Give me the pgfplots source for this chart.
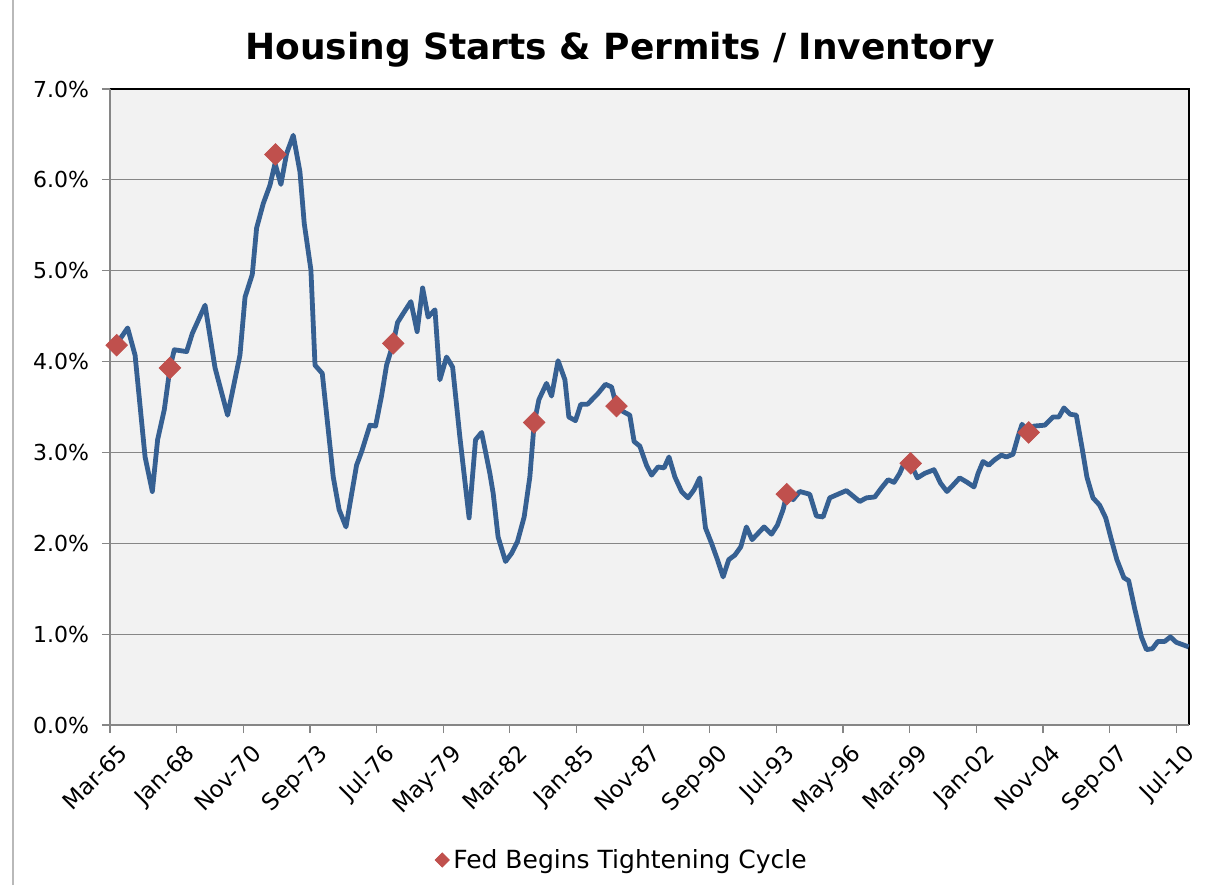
\documentclass[border=0pt]{standalone}
\usepackage{fontspec}
\setmainfont{DejaVu Sans}
\usepackage{pgfplots}
\pgfplotsset{compat=1.18}
\definecolor{linecol}{RGB}{54,96,146}
\definecolor{diam}{RGB}{192,80,77}
\definecolor{bgc}{RGB}{242,242,242}
\definecolor{gridc}{RGB}{134,134,134}
\begin{document}
\begin{tikzpicture}
\useasboundingbox (-55pt,-80pt) rectangle (549.5pt,362.5pt);
\draw[gray!55, line width=0.75pt] (-48.5pt,-80pt) -- (-48.5pt,362.5pt);
\node[anchor=base, font=\fontsize{18}{22}\selectfont\bfseries] at (255pt,332.5pt) {Housing Starts \& Permits / Inventory};
\begin{axis}[
  width=539.5pt, height=318pt, scale only axis,
  xmin=0, xmax=550.5, ymin=0, ymax=7,
  clip=false,
  axis background/.style={fill=bgc},
  axis line style={draw=none},
  ymajorgrids, grid style={gridc, line width=0.6pt},
  xtick={0,34,...,544},
  xticklabels={Mar-65,Jan-68,Nov-70,Sep-73,Jul-76,May-79,Mar-82,Jan-85,Nov-87,Sep-90,Jul-93,May-96,Mar-99,Jan-02,Nov-04,Sep-07,Jul-10},
  ytick={0,1,2,3,4,5,6,7},
  yticklabels={0.0\%,1.0\%,2.0\%,3.0\%,4.0\%,5.0\%,6.0\%,7.0\%},
  tick align=outside,
  xtick pos=bottom, ytick pos=left,
  major tick length=4pt,
  tick style={gridc, line width=0.6pt},
  x tick label style={rotate=45, anchor=north east, font=\fontsize{11.5}{13}\selectfont, xshift=2.5pt, yshift=-2.5pt},
  y tick label style={font=\fontsize{11}{13}\selectfont, xshift=-3pt},
  legend style={at={(axis description cs:0.4754,-0.2123)}, anchor=center, draw=none, fill=none, font=\fontsize{12.5}{15}\selectfont},
  legend image post style={mark size=2.5pt},
  legend image code/.code={\draw[#1] plot coordinates {(0.1cm,0cm)};},
]
\draw[black, line width=0.6pt] (rel axis cs:0,1) -- (rel axis cs:1,1) -- (rel axis cs:1,0);
\draw[gridc, line width=0.9pt] (rel axis cs:0,1) -- (rel axis cs:0,0) -- (rel axis cs:1,0);
\addplot[linecol, line width=2.4pt, line join=round, forget plot] coordinates {
(2.0,4.15) (9.0,4.37) (12.8,4.07) (17.9,2.95) (21.6,2.57) (24.3,3.14) (27.7,3.47) (30.6,3.93)
(32.8,4.13) (39.1,4.11) (42.0,4.31) (48.5,4.62) (53.6,3.93) (60.0,3.41) (66.3,4.07) (68.9,4.71)
(72.6,4.96) (74.8,5.47) (78.2,5.74) (81.6,5.94) (84.2,6.18) (87.2,5.95) (90.1,6.29) (93.5,6.49)
(96.9,6.09) (99.1,5.52) (102.5,5.01) (104.6,3.96) (108.3,3.87) (113.9,2.73) (116.9,2.37) (120.4,2.18)
(125.8,2.86) (128.4,3.01) (132.6,3.30) (135.5,3.29) (138.6,3.63) (141.1,3.96) (144.5,4.20) (146.7,4.43)
(149.6,4.53) (153.5,4.66) (156.7,4.33) (159.5,4.81) (162.3,4.49) (165.8,4.57) (168.3,3.80) (171.7,4.05)
(174.8,3.94) (178.5,3.17) (183.2,2.28) (186.5,3.14) (189.6,3.22) (193.8,2.77) (195.5,2.55) (198.0,2.07)
(201.8,1.80) (204.9,1.89) (207.9,2.02) (211.3,2.29) (214.2,2.73) (216.4,3.32) (218.8,3.58) (222.7,3.76)
(225.3,3.62) (228.6,4.01) (232.1,3.80) (234.1,3.39) (237.5,3.35) (240.2,3.53) (243.6,3.53) (249.0,3.65)
(252.8,3.75) (255.9,3.72) (258.4,3.51) (261.8,3.45) (265.2,3.41) (267.4,3.12) (270.3,3.07) (273.7,2.86)
(276.3,2.75) (279.6,2.84) (282.7,2.83) (285.2,2.95) (288.2,2.73) (291.6,2.57) (294.9,2.50) (298.0,2.59)
(300.9,2.72) (303.8,2.17) (306.9,2.00) (309.9,1.82) (312.8,1.63) (315.7,1.82) (318.8,1.87) (321.8,1.96)
(324.7,2.18) (327.6,2.04) (333.7,2.18) (337.5,2.10) (340.5,2.20) (343.4,2.37) (345.3,2.54) (348.5,2.48)
(351.9,2.57) (357.0,2.54) (360.4,2.30) (363.8,2.29) (367.2,2.50) (371.4,2.54) (375.7,2.58) (379.1,2.52)
(382.5,2.46) (385.9,2.50) (390.2,2.51) (393.6,2.61) (397.0,2.70) (400.0,2.67) (402.9,2.77) (405.5,2.90)
(408.5,2.88) (411.9,2.72) (415.7,2.77) (420.4,2.81) (423.8,2.66) (427.0,2.57) (430.1,2.64) (433.5,2.72)
(437.4,2.67) (440.8,2.62) (442.9,2.77) (445.4,2.90) (448.3,2.86) (451.4,2.92) (454.8,2.97) (457.3,2.95)
(460.7,2.98) (463.2,3.17) (465.3,3.31) (468.7,3.22) (471.4,3.29) (476.9,3.30) (481.1,3.39) (484.1,3.39)
(486.7,3.49) (489.9,3.42) (493.0,3.41) (496.1,3.03) (498.4,2.73) (501.5,2.50) (504.9,2.42) (508.0,2.28)
(510.9,2.04) (513.7,1.82) (517.3,1.62) (519.7,1.59) (522.8,1.28) (526.2,0.97) (528.8,0.83) (531.8,0.84)
(534.6,0.92) (538.1,0.92) (541.0,0.97) (544.0,0.91) (550.3,0.86)
};
\addplot[only marks, mark=square*, mark size=3.8pt, mark options={rotate=45, fill=diam, draw=diam}] coordinates {
(3.4,4.18) (30.6,3.93) (84.4,6.28) (144.5,4.20) (216.4,3.33) (258.4,3.51) (345.3,2.54) (408.5,2.88) (468.7,3.22)
};
\addlegendentry{Fed Begins Tightening Cycle}
\end{axis}
\end{tikzpicture}
\end{document}
